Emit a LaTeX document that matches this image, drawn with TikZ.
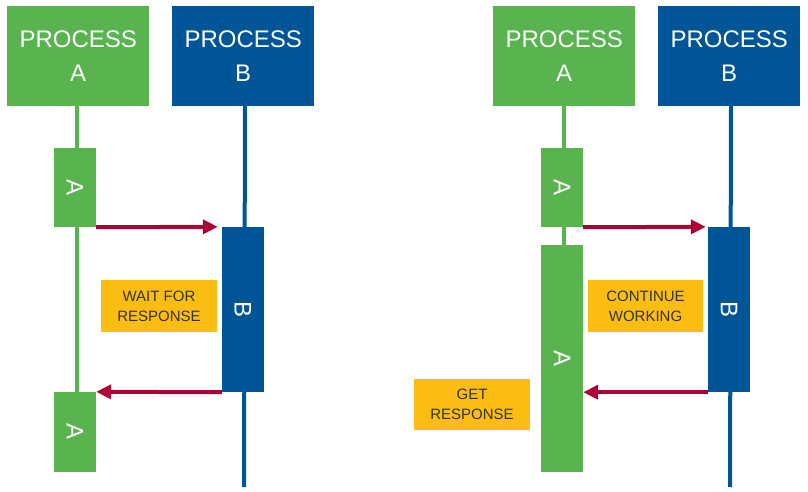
\documentclass[tikz,border=0pt]{standalone}
\usepackage{fontspec}
\usepackage{graphicx}
\setmainfont{Liberation Sans}
\usetikzlibrary{arrows.meta}
\definecolor{pgreen}{HTML}{59B34F}
\definecolor{pblue}{HTML}{005596}
\definecolor{pyellow}{HTML}{FCBD12}
\definecolor{pred}{HTML}{AE0037}
\definecolor{ptext}{HTML}{333333}
\begin{document}
\begin{tikzpicture}[x=1pt,y=-1pt,
  proc/.style={anchor=north west, minimum width=142pt, minimum height=100pt, inner sep=0pt, text=white, align=center, font=\fontsize{24}{34}\selectfont},
  act/.style={minimum width=42pt, inner sep=0pt, text=white, font=\fontsize{24}{28}\selectfont},
  note/.style={fill=pyellow, text=ptext, minimum width=116pt, minimum height=52pt, inner sep=0pt, align=center, font=\fontsize{15}{20}\selectfont},
  life/.style={line width=4pt},
  msg/.style={draw=pred, line width=4pt, -{Triangle[length=15pt,width=14pt]}}]
\useasboundingbox[fill=white] (0,0) rectangle (808,492);

% ---------- left diagram ----------
\node[proc, fill=pgreen] (pA1) at (7,6) {PROCESS\\A};
\node[proc, fill=pblue] (pB1) at (172,6) {PROCESS\\B};
\coordinate (lA1top) at (77,106);
\coordinate (lA1bot) at (77,392);
\coordinate (lB1top) at (245,106);
\coordinate (lB1bot) at (244,487);
\draw[life, pgreen] (lA1top) -- (lA1bot);
\draw[life, pblue] (lB1top) -- (lB1bot);
\node[act, fill=pgreen, minimum height=79pt] (aA1) at (75,187.5) {\rotatebox{-90}{A}};
\node[act, fill=pblue, minimum height=165pt] (aB1) at (243,309.5) {\rotatebox{-90}{B}};
\node[act, fill=pgreen, minimum height=80pt] (aA2) at (75,432) {\rotatebox{-90}{A}};
\node[note] (n1) at (159,306) {WAIT FOR\\RESPONSE};
\draw[msg, shorten >=4pt] (aA1.south east) -- (aB1.north west);
\draw[msg] (aB1.south west) -- (aA2.north east);

% ---------- right diagram ----------
\node[proc, fill=pgreen] (pA2) at (493,6) {PROCESS\\A};
\node[proc, fill=pblue] (pB2) at (658,6) {PROCESS\\B};
\coordinate (lA2top) at (564,106);
\coordinate (lA2bot) at (564,245);
\coordinate (lB2top) at (731,106);
\coordinate (lB2bot) at (730,487);
\draw[life, pgreen] (lA2top) -- (lA2bot);
\draw[life, pblue] (lB2top) -- (lB2bot);
\node[act, fill=pgreen, minimum height=79pt] (aA3) at (562,187.5) {\rotatebox{-90}{A}};
\node[act, fill=pgreen, minimum height=227pt] (aA4) at (562,358.5) {\rotatebox{-90}{A}};
\node[act, fill=pblue, minimum height=165pt] (aB2) at (729,309.5) {\rotatebox{-90}{B}};
\node[note, minimum width=115pt] (n2) at (645.5,306) {CONTINUE\\WORKING};
\node[note, minimum height=51pt] (n3) at (472,404.5) {GET\\RESPONSE};
\draw[msg, shorten >=2pt] (aA3.south east) -- (aB2.north west);
\draw[msg] (aB2.south west) -- (aA4.east |- aB2.south west);
\end{tikzpicture}
\end{document}
